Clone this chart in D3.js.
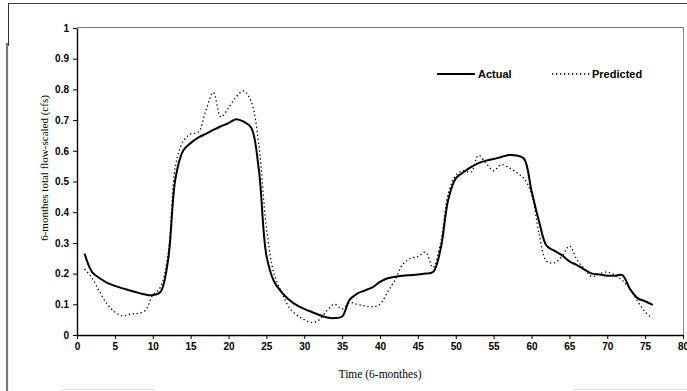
<!DOCTYPE html>
<html>
<head>
<meta charset="utf-8">
<script src="https://cdn.jsdelivr.net/npm/d3@7"></script>
<style>
  html, body { margin: 0; padding: 0; background: #fff; }
  svg { display: block; }
</style>
</head>
<body>
<svg id="chart" width="687" height="391"></svg>
<script>
// Time steps (6-month periods)
const timeSteps = d3.range(1, 77);

// Observed 6-month total flow, scaled (cfs)
const actual = [
  0.265, 0.205, 0.185, 0.170, 0.160, 0.152, 0.145, 0.138, 0.132, 0.130,
  0.140, 0.240, 0.510, 0.600, 0.625, 0.643, 0.655, 0.668, 0.680, 0.690,
  0.703, 0.695, 0.675, 0.540, 0.260, 0.175, 0.140, 0.115, 0.097, 0.085,
  0.075, 0.065, 0.057, 0.055, 0.060, 0.115, 0.135, 0.145, 0.155, 0.173,
  0.185, 0.190, 0.193, 0.195, 0.197, 0.200, 0.205, 0.280, 0.440, 0.510,
  0.530, 0.547, 0.560, 0.568, 0.573, 0.580, 0.586, 0.585, 0.575, 0.470,
  0.370, 0.290, 0.275, 0.260, 0.240, 0.228, 0.213, 0.200, 0.197, 0.193,
  0.193, 0.195, 0.150, 0.120, 0.110, 0.098
];

// Model prediction for the same periods
const predicted = [
  0.215, 0.185, 0.140, 0.100, 0.075, 0.062, 0.068, 0.070, 0.080, 0.130,
  0.155, 0.260, 0.550, 0.630, 0.655, 0.660, 0.730, 0.790, 0.710, 0.740,
  0.775, 0.795, 0.760, 0.620, 0.350, 0.200, 0.140, 0.090, 0.065, 0.050,
  0.040, 0.050, 0.080, 0.100, 0.085, 0.105, 0.100, 0.095, 0.092, 0.100,
  0.140, 0.180, 0.230, 0.250, 0.255, 0.270, 0.220, 0.300, 0.460, 0.520,
  0.535, 0.530, 0.585, 0.560, 0.535, 0.555, 0.545, 0.530, 0.510, 0.460,
  0.330, 0.240, 0.235, 0.255, 0.290, 0.245, 0.215, 0.190, 0.200, 0.205,
  0.195, 0.178, 0.150, 0.110, 0.075, 0.055
];

const xTicks = d3.range(0, 81, 5);
const yTicks = d3.range(0, 11).map(i => i / 10);
const seriesNames = ["Actual", "Predicted"];

const svg = d3.select("#chart");

const x = d3.scaleLinear().domain([0, 80]).range([77, 683]);
const y = d3.scaleLinear().domain([0, 1]).range([335, 28]);

// Outer chart frame
svg.append("line").attr("x1", 8).attr("x2", 687).attr("y1", 3.5).attr("y2", 3.5)
  .attr("stroke", "#444").attr("stroke-width", 1.2);
svg.append("line").attr("x1", 8.5).attr("x2", 8.5).attr("y1", 3).attr("y2", 46)
  .attr("stroke", "#333").attr("stroke-width", 1);
svg.append("line").attr("x1", 7).attr("x2", 7).attr("y1", 43).attr("y2", 391)
  .attr("stroke", "#777").attr("stroke-width", 2.2);
svg.append("line").attr("x1", 60).attr("x2", 155).attr("y1", 389.5).attr("y2", 389.5)
  .attr("stroke", "#e4e4e4").attr("stroke-width", 1);
svg.append("line").attr("x1", 573).attr("x2", 687).attr("y1", 389.5).attr("y2", 389.5)
  .attr("stroke", "#e4e4e4").attr("stroke-width", 1);

// Plot area border (top and right)
svg.append("line").attr("x1", x(0)).attr("x2", x(80)).attr("y1", y(1) - 0.5).attr("y2", y(1) - 0.5)
  .attr("stroke", "#777").attr("stroke-width", 1);
svg.append("line").attr("x1", x(80) + 0.5).attr("x2", x(80) + 0.5).attr("y1", y(1) - 1).attr("y2", y(0))
  .attr("stroke", "#888").attr("stroke-width", 1);

const tickFont = "'Liberation Sans', Arial, sans-serif";

// X axis
const xAxis = svg.append("g")
  .attr("transform", `translate(0,${y(0)})`)
  .call(d3.axisBottom(x).tickValues(xTicks).tickSize(4).tickSizeOuter(0).tickPadding(4)
    .tickFormat(d3.format("d")));
xAxis.select(".domain").attr("stroke", "#000").attr("stroke-width", 1.6);
xAxis.selectAll(".tick line").attr("stroke", "#000").attr("stroke-width", 1);
xAxis.selectAll(".tick text")
  .attr("font-family", tickFont).attr("font-weight", "bold").attr("font-size", 10).attr("fill", "#000");

// Y axis
const yAxis = svg.append("g")
  .attr("transform", `translate(${x(0)},0)`)
  .call(d3.axisLeft(y).tickValues(yTicks).tickSize(4).tickSizeOuter(0).tickPadding(4)
    .tickFormat(d => d === 0 ? "0" : d === 1 ? "1" : d3.format(".1f")(d)));
yAxis.select(".domain").attr("stroke", "#000").attr("stroke-width", 1.4);
yAxis.selectAll(".tick line").attr("stroke", "#000").attr("stroke-width", 1);
yAxis.selectAll(".tick text")
  .attr("font-family", tickFont).attr("font-weight", "bold").attr("font-size", 10).attr("fill", "#000");

// Axis titles
svg.append("text")
  .attr("transform", "translate(48,168) rotate(-90)")
  .attr("text-anchor", "middle")
  .attr("font-family", "'Liberation Serif', 'Times New Roman', serif")
  .attr("font-size", 11)
  .text("6-monthes total flow-scaled (cfs)");

svg.append("text")
  .attr("x", 380).attr("y", 378)
  .attr("text-anchor", "middle")
  .attr("font-family", "'Liberation Serif', 'Times New Roman', serif")
  .attr("font-size", 11.5)
  .text("Time (6-monthes)");

// Series lines
const line = d3.line()
  .x((d, i) => x(timeSteps[i]))
  .y(d => y(d))
  .curve(d3.curveCatmullRom.alpha(0.5));

svg.append("path")
  .datum(predicted)
  .attr("fill", "none")
  .attr("stroke", "#000")
  .attr("stroke-width", 1.3)
  .attr("stroke-dasharray", "1.3,2.7")
  .attr("d", line);

svg.append("path")
  .datum(actual)
  .attr("fill", "none")
  .attr("stroke", "#000")
  .attr("stroke-width", 2)
  .attr("stroke-linejoin", "round")
  .attr("d", line);

// Legend
const legendFont = "'Comic Sans MS', 'Liberation Sans', Arial, sans-serif";
const legend = svg.append("g");
legend.append("line").attr("x1", 437).attr("x2", 475).attr("y1", 74).attr("y2", 74)
  .attr("stroke", "#000").attr("stroke-width", 2);
legend.append("text").attr("x", 478).attr("y", 78)
  .attr("font-family", legendFont).attr("font-weight", "bold").attr("font-size", 11)
  .text(seriesNames[0]);
legend.append("line").attr("x1", 552).attr("x2", 590).attr("y1", 74).attr("y2", 74)
  .attr("stroke", "#000").attr("stroke-width", 1.3).attr("stroke-dasharray", "1.3,2.7");
legend.append("text").attr("x", 592).attr("y", 78)
  .attr("font-family", legendFont).attr("font-weight", "bold").attr("font-size", 11)
  .text(seriesNames[1]);
</script>
</body>
</html>
